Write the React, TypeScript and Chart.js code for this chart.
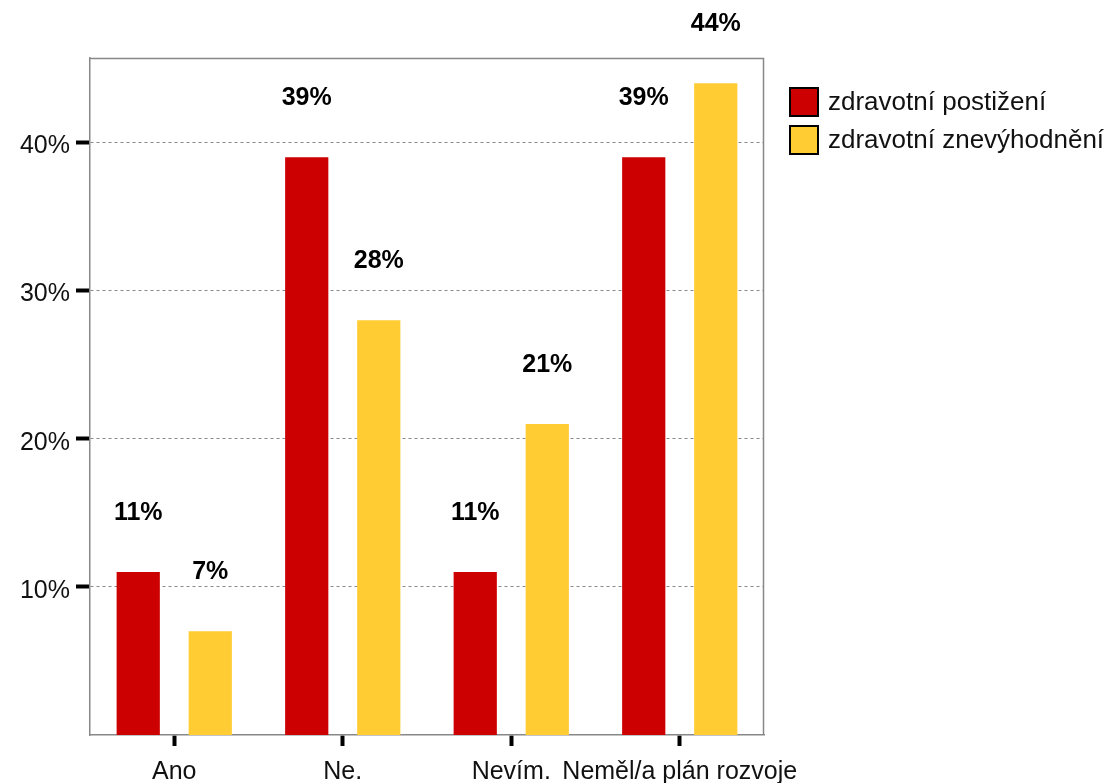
import React, { useEffect, useRef } from "react";
import { Chart, registerables } from "chart.js";

Chart.register(...registerables);

const categories = ["Ano", "Ne.", "Nevím.", "Neměl/a plán rozvoje"];
const seriesLabels = ["zdravotní postižení", "zdravotní znevýhodnění"];
const postizeni = [11, 39, 11, 39];
const znevyhodneni = [7, 28, 21, 44];
const seriesColors = ["#CC0000", "#FFCC33"];
const yTickValues = [10, 20, 30, 40];

const FONT = "'Liberation Sans', Arial, sans-serif";

const frameAndLabels = {
  id: "frameAndLabels",
  afterDatasetsDraw(chart: any) {
    const { ctx, chartArea } = chart;
    ctx.save();
    // top & right border of plot
    ctx.strokeStyle = "#888888";
    ctx.lineWidth = 1.5;
    ctx.beginPath();
    ctx.moveTo(chartArea.left, chartArea.top + 0.5);
    ctx.lineTo(chartArea.right - 0.5, chartArea.top + 0.5);
    ctx.lineTo(chartArea.right - 0.5, chartArea.bottom);
    ctx.stroke();
    // value labels
    ctx.fillStyle = "#000000";
    ctx.font = `bold 25px ${FONT}`;
    ctx.textAlign = "center";
    ctx.textBaseline = "middle";
    chart.data.datasets.forEach((ds: any, di: number) => {
      const meta = chart.getDatasetMeta(di);
      meta.data.forEach((bar: any, i: number) => {
        ctx.fillText(`${ds.data[i]}%`, bar.x, bar.y - 59);
      });
    });
    // legend
    ctx.font = `26px ${FONT}`;
    ctx.textAlign = "left";
    chart.data.datasets.forEach((ds: any, di: number) => {
      const top = 88 + di * 38;
      ctx.fillStyle = ds.backgroundColor;
      ctx.fillRect(790, top, 28, 28);
      ctx.strokeStyle = "#000000";
      ctx.lineWidth = 2;
      ctx.strokeRect(790, top, 28, 28);
      ctx.fillStyle = "#111111";
      ctx.fillText(ds.label, 828, top + 15);
    });
    ctx.restore();
  },
};

export default function App() {
  const ref = useRef<HTMLCanvasElement | null>(null);
  useEffect(() => {
    if (!ref.current) return;
    const chart = new Chart(ref.current, {
      type: "bar",
      data: {
        labels: categories,
        datasets: [
          { label: seriesLabels[0], data: postizeni, backgroundColor: seriesColors[0] },
          { label: seriesLabels[1], data: znevyhodneni, backgroundColor: seriesColors[1] },
        ],
      },
      options: {
        animation: false,
        responsive: false,
        maintainAspectRatio: false,
        layout: { padding: { left: 0, top: 58, right: 341, bottom: 0 } },
        categoryPercentage: 0.855,
        barPercentage: 0.6,
        plugins: { legend: { display: false }, tooltip: { enabled: false }, title: { display: false } },
        scales: {
          x: {
            offset: true,
            grid: {
              offset: false,
              drawOnChartArea: false,
              tickLength: 11,
              tickWidth: 4,
              tickColor: "#000000",
            },
            border: { display: true, color: "#888888", width: 1.5 },
            ticks: {
              font: { family: FONT, size: 25 },
              color: "#111111",
              padding: 11,
              maxRotation: 0,
              autoSkip: false,
            },
            afterFit: (s: any) => { s.height = 48; },
          },
          y: {
            min: 0,
            max: 45.7,
            afterBuildTicks: (s: any) => { s.ticks = yTickValues.map((v) => ({ value: v })); },
            grid: {
              color: "#888888",
              lineWidth: 1,
              tickLength: 14,
              tickWidth: 4,
              tickColor: "#000000",
            },
            border: { display: true, color: "#888888", width: 1.5, dash: [3, 3] },
            ticks: {
              font: { family: FONT, size: 25 },
              color: "#111111",
              padding: 6,
              labelOffset: 4,
              callback: (v: any) => `${v}%`,
            },
            afterFit: (s: any) => { s.width = 90; },
          },
        },
      },
      plugins: [frameAndLabels],
    });
    return () => chart.destroy();
  }, []);
  return (
    <div style={{ position: "fixed", left: 0, top: 0, width: 1105, height: 783, background: "#fff" }}>
      <canvas ref={ref} width={1105} height={783} style={{ width: 1105, height: 783 }} />
    </div>
  );
}
